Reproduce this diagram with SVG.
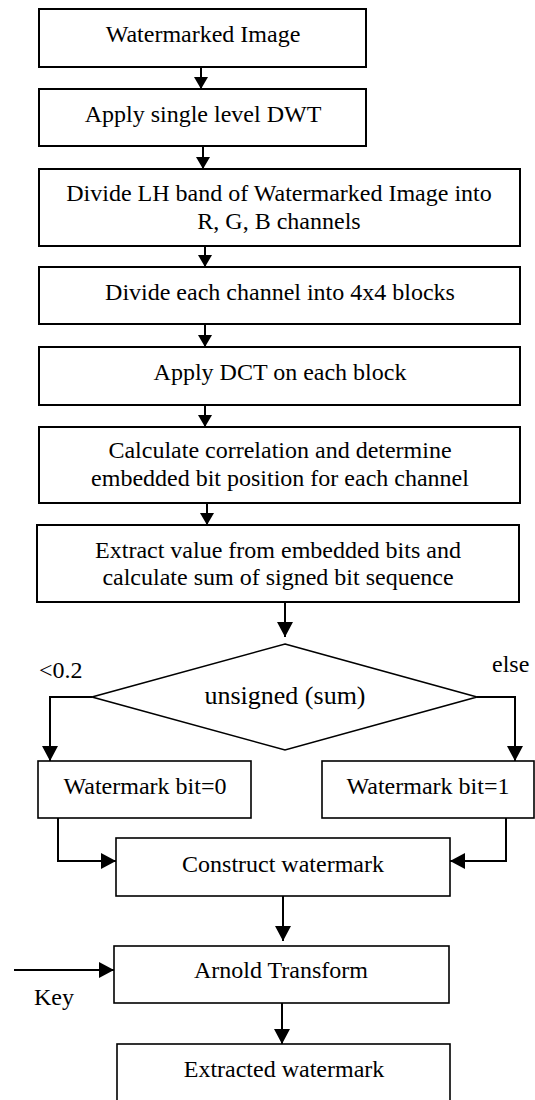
<svg xmlns="http://www.w3.org/2000/svg" width="535" height="1100" viewBox="0 0 535 1100">
  <style>
    .box { fill: #fff; stroke: #000; stroke-width: 2; }
    .thin { fill: #fff; stroke: #000; stroke-width: 1.6; }
    .lbl { font-family: "Liberation Serif", "Times New Roman", serif; font-size: 24px; fill: #000; text-anchor: middle; }
    .side { font-family: "Liberation Serif", "Times New Roman", serif; font-size: 24px; fill: #000; }
    .wire { fill: none; stroke: #000; stroke-width: 2; }
  </style>
  <defs>
    <marker id="hs" markerUnits="userSpaceOnUse" markerWidth="14" markerHeight="14" refX="12" refY="7" orient="auto">
      <path d="M0,0 L12,7 L0,14 z" fill="#000"/>
    </marker>
    <marker id="hl" markerUnits="userSpaceOnUse" markerWidth="16" markerHeight="16" refX="15" refY="8" orient="auto">
      <path d="M0,0 L15,8 L0,16 z" fill="#000"/>
    </marker>
  </defs>

  <rect width="535" height="1100" fill="#fff"/>

  <!-- connectors -->
  <g id="connectors">
    <path class="wire" d="M201,67 V89" marker-end="url(#hs)"/>
    <path class="wire" d="M203,146 V169" marker-end="url(#hs)"/>
    <path class="wire" d="M205,246 V267" marker-end="url(#hs)"/>
    <path class="wire" d="M205,324 V347" marker-end="url(#hs)"/>
    <path class="wire" d="M205,405 V427" marker-end="url(#hs)"/>
    <path class="wire" d="M207,503 V525" marker-end="url(#hs)"/>
    <path class="wire" d="M285,602 V637" marker-end="url(#hl)"/>
    <path class="wire" d="M92,697 H50 V761" marker-end="url(#hl)"/>
    <path class="wire" d="M477,697 H515 V761" marker-end="url(#hl)"/>
    <path class="wire" d="M58,818 V861 H116" marker-end="url(#hl)"/>
    <path class="wire" d="M506,818 V861 H450" marker-end="url(#hl)"/>
    <path class="wire" d="M283,896 V941" marker-end="url(#hl)"/>
    <path class="wire" d="M14,970 H114" marker-end="url(#hl)"/>
    <path class="wire" d="M282,1003 V1044" marker-end="url(#hl)"/>
  </g>

  <!-- process steps -->
  <g id="n1">
    <rect class="box" x="39" y="9" width="327" height="58"/>
    <text class="lbl" x="203" y="42">Watermarked Image</text>
  </g>
  <g id="n2">
    <rect class="box" x="39" y="89" width="327" height="57"/>
    <text class="lbl" x="203" y="122">Apply single level DWT</text>
  </g>
  <g id="n3">
    <rect class="box" x="39" y="169" width="481" height="77"/>
    <text class="lbl" x="279" y="201">Divide LH band of Watermarked Image into</text>
    <text class="lbl" x="279" y="229">R, G, B channels</text>
  </g>
  <g id="n4">
    <rect class="box" x="39" y="267" width="481" height="57"/>
    <text class="lbl" x="280" y="300">Divide each channel into 4x4 blocks</text>
  </g>
  <g id="n5">
    <rect class="box" x="39" y="347" width="481" height="58"/>
    <text class="lbl" x="280" y="380">Apply DCT on each block</text>
  </g>
  <g id="n6">
    <rect class="box" x="39" y="427" width="481" height="76"/>
    <text class="lbl" x="280" y="458">Calculate correlation and determine</text>
    <text class="lbl" x="280" y="486">embedded bit position for each channel</text>
  </g>
  <g id="n7">
    <rect class="box" x="37" y="525" width="482" height="77"/>
    <text class="lbl" x="278" y="558">Extract value from embedded bits and</text>
    <text class="lbl" x="278" y="585">calculate sum of signed bit sequence</text>
  </g>

  <!-- decision -->
  <g id="n8">
    <polygon class="thin" points="285,644 477,697 285,750 92,697"/>
    <text class="lbl" x="285" y="704" style="font-size:26px">unsigned (sum)</text>
    <text class="side" x="39" y="678">&lt;0.2</text>
    <text class="side" x="492" y="672">else</text>
  </g>

  <g id="n9">
    <rect class="thin" x="38" y="761" width="213" height="57"/>
    <text class="lbl" x="145" y="794">Watermark bit=0</text>
  </g>
  <g id="n10">
    <rect class="thin" x="322" y="761" width="212" height="57"/>
    <text class="lbl" x="428" y="794">Watermark bit=1</text>
  </g>
  <g id="n11">
    <rect class="thin" x="116" y="838" width="334" height="58"/>
    <text class="lbl" x="283" y="872">Construct watermark</text>
  </g>
  <g id="n12">
    <rect class="thin" x="114" y="946" width="335" height="57"/>
    <text class="lbl" x="281" y="978">Arnold Transform</text>
    <text class="side" x="34" y="1005">Key</text>
  </g>
  <g id="n13">
    <rect class="thin" x="117" y="1044" width="333" height="70"/>
    <text class="lbl" x="284" y="1077">Extracted watermark</text>
  </g>
</svg>
